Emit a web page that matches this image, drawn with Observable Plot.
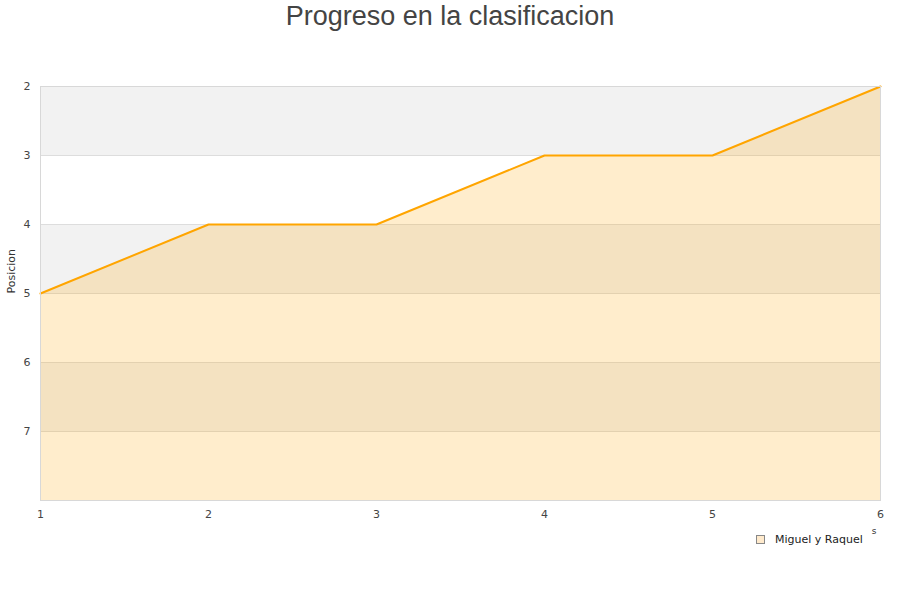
<!DOCTYPE html>
<html>
<head>
<meta charset="utf-8">
<script src="https://cdn.jsdelivr.net/npm/d3@7"></script>
<script src="https://cdn.jsdelivr.net/npm/@observablehq/plot@0.6"></script>
<style>
  body { margin: 0; background: #fff; }
  #wrap { position: relative; width: 900px; height: 600px; }
  #title { position: absolute; top: 0; left: 0; width: 900px; text-align: center;
    font-family: "Liberation Sans", Arial, sans-serif; font-size: 27px; color: #444; line-height: 32px; }
  #legend { position: absolute; left: 756px; top: 533px; font-family: "DejaVu Sans", sans-serif;
    font-size: 11px; color: #222; display: flex; align-items: center; }
  #legend span.sw { display: inline-block; width: 7px; height: 7px; background: #ffeacc; border: 1px solid #888; margin-right: 10px; }
</style>
</head>
<body>
<div id="wrap">
  <div id="title">Progreso en la clasificacion</div>
  <div id="legend"><span class="sw"></span>Miguel y Raquel</div>
</div>
<script>
const jornadas = [1, 2, 3, 4, 5, 6];
const posiciones = [5, 4, 4, 3, 3, 2];
const yTicks = [2, 3, 4, 5, 6, 7];
const bandStarts = [2, 4, 6];
const serie = "Miguel y Raquel";
const yLabel = "Posicion";

const data = jornadas.map((j, i) => ({jornada: j, pos: posiciones[i]}));
const bands = bandStarts.map(s => ({y1: s, y2: s + 1}));
const fmt = d => String(d);

const chart = Plot.plot({
  width: 900,
  height: 600,
  marginLeft: 40,
  marginRight: 20,
  marginTop: 86,
  marginBottom: 100,
  style: {fontFamily: "DejaVu Sans, sans-serif", fontSize: "11px", color: "#444", background: "transparent"},
  x: {domain: [1, 6], label: null},
  y: {domain: [2, 8], reverse: true, label: null},
  marks: [
    Plot.rect(bands, {x1: 1, x2: 6, y1: "y1", y2: "y2", fill: "#f2f2f2"}),
    Plot.ruleY(yTicks.slice(1), {stroke: "#dddddd", strokeWidth: 1}),
    Plot.areaY(data, {x: "jornada", y1: 8, y2: "pos", fill: "#ffa500", fillOpacity: 0.2}),
    Plot.line(data, {x: "jornada", y: "pos", stroke: "#ffa500", strokeWidth: 2}),
    Plot.frame({stroke: "#d8d8d8"}),
    Plot.axisX({ticks: jornadas, tickSize: 0, tickPadding: 10, tickFormat: fmt, label: null}),
    Plot.axisY({ticks: yTicks, tickSize: 0, tickPadding: 10, tickFormat: fmt, label: null}),
    Plot.text([yLabel], {frameAnchor: "left", dx: -29, rotate: -90, fontSize: 11, fill: "#333"}),
    Plot.text(["s"], {frameAnchor: "bottom-right", dx: -4, dy: 33, fontSize: 9, fill: "#333"})
  ]
});
chart.style.position = "absolute";
chart.style.left = "0px";
chart.style.top = "0px";
document.getElementById("wrap").prepend(chart);
</script>
</body>
</html>
